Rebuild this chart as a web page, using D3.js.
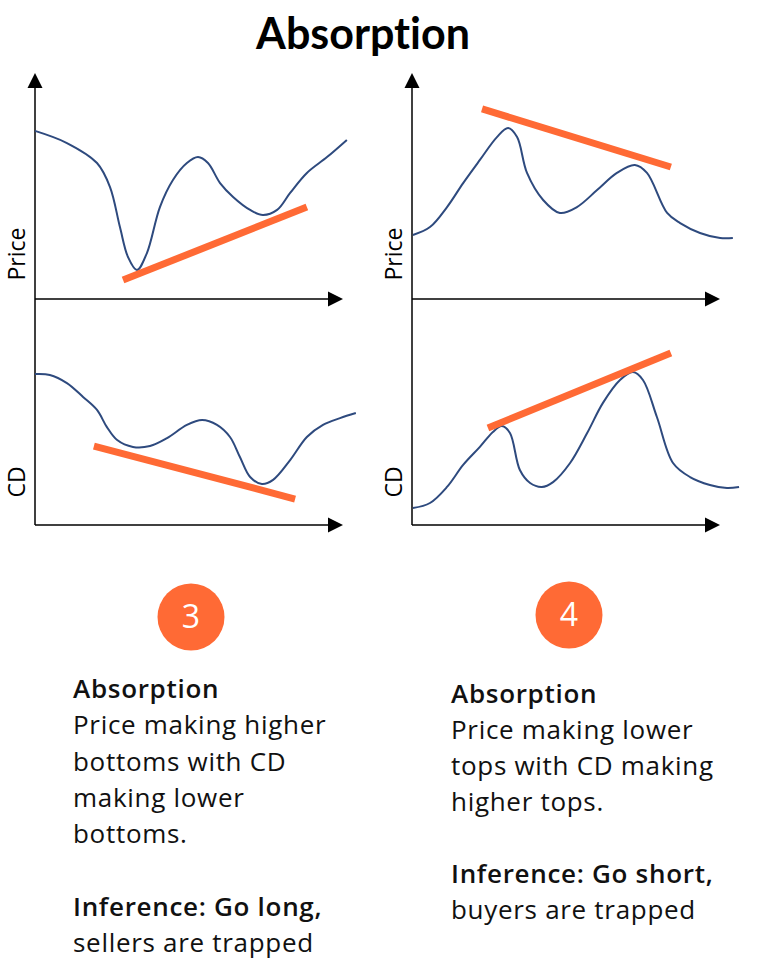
<!DOCTYPE html>
<html>
<head>
<meta charset="utf-8">
<script src="https://cdn.jsdelivr.net/npm/d3@7"></script>
<style>
  html, body { margin: 0; padding: 0; background: #ffffff; }
  svg { display: block; }
  text { font-variant-ligatures: none; }
</style>
</head>
<body>
<svg id="chart" width="777" height="962"></svg>
<script>
// ---- Data ----
const title = "Absorption";
const panelNames = ["price3", "cd3", "price4", "cd4"];
const axisLabels = ["Price", "CD", "Price", "CD"];

// curve points [x, y] in a 0-100 domain
const price3 = [[0,76.4],[10.3,70.9],[20,61.8],[24.2,50.9],[27.4,32.7],[30,19.1],[32.9,13.2],[36.1,20.9],[40.3,41.8],[44.5,54.1],[49,61.8],[52.6,64.5],[55.8,61.8],[59.7,52.7],[63.9,46.4],[69.4,40.5],[73.5,38.2],[78.1,40.5],[82.3,48.2],[87.7,57.3],[94.2,64.5],[100.6,72.3]];
const cd3 = [[0,68.6],[4.8,68.2],[10.3,64.5],[15.5,58.2],[20,52.3],[23.2,44.5],[26.5,38.6],[31.6,35.5],[37.1,35.9],[42.6,39.5],[49,45.5],[53.9,47.7],[58.7,45.5],[62.9,40],[66.1,30.9],[69.4,21.8],[73.2,18.6],[76.8,20.5],[82.3,29.5],[87.7,40],[92.9,45.5],[98.4,48.6],[103.5,50.9]];
const price4 = [[0.3,29.1],[5.8,32.7],[11.3,41.8],[16.5,52.7],[21.9,63.2],[27.4,73.6],[31,77.7],[33.9,73.6],[37.1,57.3],[42.3,45],[47.7,39.1],[53.2,41.8],[59.7,49.5],[66.1,57.3],[71.9,60.9],[75.8,57.3],[82.3,39.1],[86.5,34.5],[92.9,30],[99.4,27.7],[103.5,27.7]];
const cd4 = [[0.3,7.7],[5.8,10],[11.3,17.3],[16.5,27.3],[21.9,35.5],[26.1,42.3],[29,45],[31.6,41.8],[34.8,25],[38.1,19.1],[41.9,17.3],[45.5,19.5],[51,28.2],[56.5,41.8],[61.6,55.5],[67.1,65.9],[71.3,69.5],[74.5,65.9],[79,49.1],[84.2,28.2],[89.7,21.8],[96.1,18.2],[101.6,16.8],[105.5,17.3]];

// trend lines (orange)
const trend3Price = [[28.4,8.6],[87.7,41.8]];
const trend3CD = [[19,35.9],[83.9,11.8]];
const trend4Price = [[22.6,86.4],[83.5,60]];
const trend4CD = [[24.5,44.1],[83.5,78.2]];

const badges = ["3", "4"];
const textLeft = [
  {t:"Absorption", b:true},
  {t:"Price making higher", b:false},
  {t:"bottoms with CD", b:false},
  {t:"making lower", b:false},
  {t:"bottoms.", b:false},
  {t:"", b:false},
  {t:"Inference: Go long,", b:true},
  {t:"sellers are trapped", b:false}
];
const textRight = [
  {t:"Absorption", b:true},
  {t:"Price making lower", b:false},
  {t:"tops with CD making", b:false},
  {t:"higher tops.", b:false},
  {t:"", b:false},
  {t:"Inference: Go short,", b:true},
  {t:"buyers are trapped", b:false}
];

// ---- Drawing ----
const svg = d3.select("#chart");
const FONT = "Lato, 'Open Sans', sans-serif";
const BODY = "'Open Sans', sans-serif";
const ORANGE = "#FF6A35";
const NAVY = "#2E4A7E";

svg.append("text")
  .attr("x", 363).attr("y", 49)
  .attr("text-anchor", "middle")
  .attr("font-family", FONT).attr("font-weight", 700)
  .attr("font-size", 43).attr("fill", "#000")
  .text(title);

const columns = [
  {x0: 35, curves: [price3, cd3], trends: [trend3Price, trend3CD]},
  {x0: 412, curves: [price4, cd4], trends: [trend4Price, trend4CD]}
];
const axisYs = [299, 525];

columns.forEach((col, ci) => {
  const g = svg.append("g");
  g.append("line")
    .attr("x1", col.x0).attr("x2", col.x0)
    .attr("y1", 84).attr("y2", 525)
    .attr("stroke", "#000").attr("stroke-width", 1.5);
  g.append("path")
    .attr("d", d3.line()([[col.x0, 73], [col.x0 + 7.5, 88], [col.x0 - 7.5, 88]]) + "Z")
    .attr("fill", "#000");

  axisYs.forEach((ay, pi) => {
    const x = d3.scaleLinear().domain([0, 100]).range([col.x0, col.x0 + 310]);
    const y = d3.scaleLinear().domain([0, 100]).range([ay, ay - 220]);
    const tipX = col.x0 + 308;
    g.append("line")
      .attr("x1", col.x0).attr("x2", tipX - 10)
      .attr("y1", ay).attr("y2", ay)
      .attr("stroke", "#000").attr("stroke-width", 1.5);
    g.append("path")
      .attr("d", d3.line()([[tipX, ay], [tipX - 15, ay - 7.5], [tipX - 15, ay + 7.5]]) + "Z")
      .attr("fill", "#000");

    const lbl = axisLabels[ci * 2 + pi];
    const ly = pi === 0 ? 254 : 482;
    g.append("text")
      .attr("transform", `translate(${col.x0 - 10},${ly}) rotate(-90)`)
      .attr("text-anchor", "middle")
      .attr("font-family", BODY)
      .attr("font-size", 23).attr("fill", "#000")
      .text(lbl);

    const line = d3.line()
      .x(d => x(d[0])).y(d => y(d[1]))
      .curve(d3.curveCatmullRom.alpha(0.5));
    g.append("path")
      .datum(col.curves[pi])
      .attr("d", line)
      .attr("fill", "none")
      .attr("stroke", NAVY)
      .attr("stroke-width", 2);

    const tl = d3.line().x(d => x(d[0])).y(d => y(d[1]));
    g.append("path")
      .datum(col.trends[pi])
      .attr("d", tl)
      .attr("fill", "none")
      .attr("stroke", ORANGE)
      .attr("stroke-width", 7);
  });
});

const badgeX = [191, 569];
const badgeY = [617, 615];
badges.forEach((b, i) => {
  svg.append("circle")
    .attr("cx", badgeX[i]).attr("cy", badgeY[i]).attr("r", 33.5)
    .attr("fill", ORANGE);
  svg.append("text")
    .attr("x", badgeX[i]).attr("y", badgeY[i] + 11)
    .attr("text-anchor", "middle")
    .attr("font-family", BODY)
    .attr("font-size", 32).attr("fill", "#fff")
    .text(b);
});

function block(lines, x, y0, lh) {
  const t = svg.append("text")
    .attr("font-family", BODY).attr("font-size", 26)
    .attr("letter-spacing", 0.7).attr("fill", "#111");
  lines.forEach((l, i) => {
    t.append("tspan")
      .attr("x", x).attr("y", y0 + i * lh)
      .attr("font-weight", l.b ? 600 : 400)
      .text(l.t);
  });
}
block(textLeft, 73, 698, 36.3);
block(textRight, 451, 703, 36);
</script>
</body>
</html>
